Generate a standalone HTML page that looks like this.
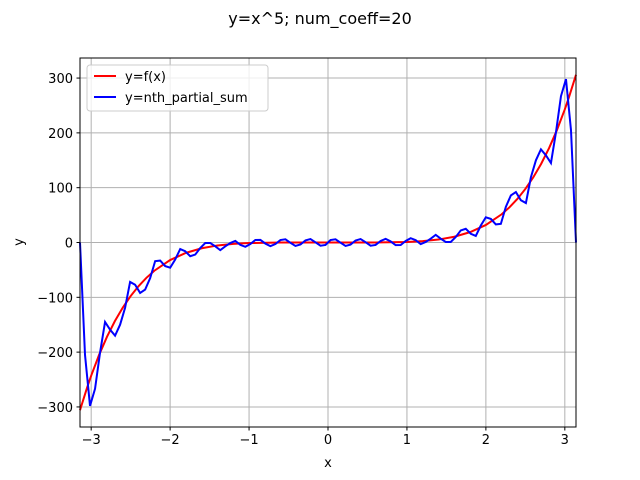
<!DOCTYPE html>
<html><head><meta charset="utf-8"><style>
body{margin:0;background:#fff;}
svg{display:block;font-family:"DejaVu Sans","Liberation Sans",sans-serif;}
</style></head><body>
<svg id="chart" width="640" height="480">
<rect width="640" height="480" fill="#fff"/>
<text x="320" y="24" text-anchor="middle" font-size="16">y=x^5; num_coeff=20</text>
<g id="grid"></g>
<g id="plot"></g>
<rect x="80" y="58" width="496" height="369" fill="none" stroke="#000" stroke-width="1"/>
<g id="ticks"></g>
<text x="328" y="467" text-anchor="middle" font-size="13">x</text>
<text x="0" y="0" transform="translate(23,242) rotate(-90)" text-anchor="middle" font-size="13">y</text>
<g>
<rect x="87" y="65" width="181" height="46" rx="3" fill="#fff" fill-opacity="0.8" stroke="#ccc"/>
<line x1="94" y1="76" x2="116" y2="76" stroke="red" stroke-width="2"/>
<text x="125" y="81" font-size="13">y=f(x)</text>
<line x1="94" y1="97" x2="116" y2="97" stroke="blue" stroke-width="2"/>
<text x="125" y="102" font-size="13">y=nth_partial_sum</text>
</g>
</svg>
<script>
const xTicks = [-3,-2,-1,0,1,2,3];
const yTicks = [-300,-200,-100,0,100,200,300];
const fX = [-3.1416,-3.05,-3.0,-2.9,-2.8,-2.7,-2.6,-2.5,-2.4,-2.3,-2.2,-2.0,-1.8,-1.6,-1.4,-1.2,-1.0,-0.6,0,0.6,1.0,1.2,1.4,1.6,1.8,2.0,2.2,2.3,2.4,2.5,2.6,2.7,2.8,2.9,3.0,3.05,3.1416];
const fY = [-306,-263.9,-243,-205.1,-172.1,-143.5,-118.8,-97.7,-79.6,-64.4,-51.5,-32,-18.9,-10.5,-5.38,-2.49,-1,-0.08,0,0.08,1,2.49,5.38,10.5,18.9,32,51.5,64.4,79.6,97.7,118.8,143.5,172.1,205.1,243,263.9,306];
const sumRight = [4.5,5.9,-0.4,-6.3,-3.8,3.6,6.3,0.6,-5.8,-4.5,2.8,6.7,2.0,-4.8,-4.6,2.7,7.8,4.4,-3,1,7,14,7,1,1,10,22,25,16,12,31,46,43,33,34,65,86,92,77,72,119,150,170,159,145,201,267,298,205,0];
const sumY = sumRight.slice().reverse().map(v=>-v).concat(sumRight);
const NS='http://www.w3.org/2000/svg';
const X0=80,X1=576,Y0=58,Y1=427,XMIN=-Math.PI,XMAX=Math.PI,YMIN=-336.6,YMAX=336.6;
const sx=x=>X0+(x-XMIN)/(XMAX-XMIN)*(X1-X0);
const sy=y=>Y1-(y-YMIN)/(YMAX-YMIN)*(Y1-Y0);
const grid=document.getElementById('grid'),ticks=document.getElementById('ticks'),plot=document.getElementById('plot');
function mk(tag,attrs,parent){const e=document.createElementNS(NS,tag);for(const k in attrs)e.setAttribute(k,attrs[k]);parent.appendChild(e);return e;}
const fmt=v=>v<0?'\u2212'+(-v):''+v;
xTicks.forEach(t=>{const x=sx(t);
 const g=mk('line',{x1:x,x2:x,y1:Y0,y2:Y1,stroke:'#b0b0b0','stroke-width':1},grid);
 
 
 mk('line',{x1:x,x2:x,y1:Y1,y2:Y1+3.5,stroke:'#000'},ticks);
 const l=mk('text',{x:x,y:Y1+17,'text-anchor':'middle','font-size':13},ticks);l.textContent=fmt(t);
 
 
});
yTicks.forEach(t=>{const y=sy(t);
 const g=mk('line',{x1:X0,x2:X1,y1:y,y2:y,stroke:'#b0b0b0','stroke-width':1},grid);
 
 
 mk('line',{x1:X0-3.5,x2:X0,y1:y,y2:y,stroke:'#000'},ticks);
 const l=mk('text',{x:X0-7,y:y+5,'text-anchor':'end','font-size':13},ticks);l.textContent=fmt(t);
 
 
});
const red=mk('polyline',{points:fX.map((x,i)=>sx(x)+','+sy(fY[i])).join(' '),fill:'none',stroke:'red','stroke-width':2},plot);


const n=sumY.length;
const blue=mk('polyline',{points:sumY.map((v,i)=>sx(XMIN+i*(XMAX-XMIN)/(n-1))+','+sy(v)).join(' '),fill:'none',stroke:'blue','stroke-width':2},plot);


</script>
</body></html>
